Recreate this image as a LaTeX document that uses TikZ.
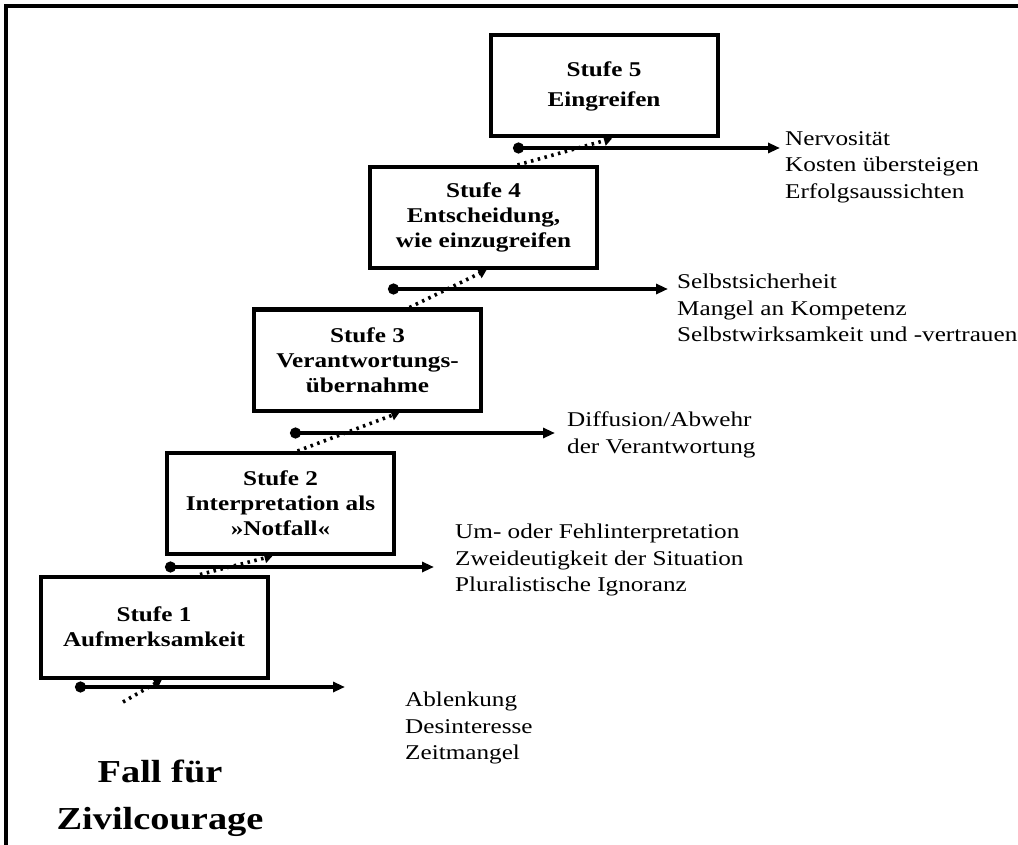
\documentclass[tikz,border=0pt]{standalone}
\usepackage{fontspec}
\setmainfont{Liberation Serif}[FakeStretch=1.2]
\usepackage{tikz}
\usetikzlibrary{arrows.meta}
\newcommand{\stage}[2]{\textbf{Stufe #1}\\\textbf{#2}}

\begin{document}
\begin{tikzpicture}[x=1pt, y=-1pt,
    stufebox/.style={draw, line width=4pt, minimum width=227pt, minimum height=101pt,
      align=center, inner sep=2pt, font=\fontsize{21}{25}\selectfont},
    lbl/.style={anchor=north west, align=left, inner sep=0pt,
      font=\fontsize{21}{26.5}\selectfont},
    hline/.style={line width=3.2pt, {Circle[length=11pt]}-{Triangle[length=12pt,width=10pt]}},
    stepdots/.style={line width=3.6pt, dash pattern=on 2.5pt off 4.5pt,
      -{Triangle[length=8pt,width=10pt]}}]
  \useasboundingbox (0,0) rectangle (1018,845);
  % --- frame (top and left) ---
  \draw[line width=3.5pt] (6,845) -- (6,6) -- (1018,6);
  % --- boxes ---
  \node[stufebox] (s1) at (154,627) {\stage{1}{Aufmerksamkeit}};
  \node[stufebox] (s2) at (280.5,503.5) {\stage{2}{Interpretation als}\\\textbf{»Notfall«}};
  \node[stufebox] (s3) at (367.5,360) {\stage{3}{Verantwortungs-}\\\textbf{übernahme}};
  \node[stufebox] (s4) at (483.5,217.5) {\stage{4}{Entscheidung,}\\\textbf{wie einzugreifen}};
  \node[stufebox, font=\fontsize{21}{30}\selectfont] (s5) at (604,86) {\stage{5}{Eingreifen}};
  % --- horizontal arrows ---
  \coordinate (h1a) at (75,687);  \coordinate (h1b) at (345,687);
  \coordinate (h2a) at (165,567); \coordinate (h2b) at (434,567);
  \coordinate (h3a) at (290,433); \coordinate (h3b) at (555,433);
  \coordinate (h4a) at (388,289); \coordinate (h4b) at (668,289);
  \coordinate (h5a) at (513,148); \coordinate (h5b) at (780,148);
  \foreach \i in {1,...,5} {\draw[hline] (h\i a) -- (h\i b);}
  % --- dotted steps ---
  \coordinate (d0) at (123,702);
  \draw[stepdots] (d0) -- ([xshift=8pt]s1.south);
  \draw[stepdots] ([xshift=46pt]s1.north) -- ([xshift=-8pt]s2.south);
  \draw[stepdots] ([xshift=17pt]s2.north) -- ([xshift=32pt]s3.south);
  \draw[stepdots] ([xshift=42pt]s3.north) -- ([xshift=3pt]s4.south);
  \draw[stepdots] ([xshift=34pt]s4.north) -- ([xshift=8pt]s5.south);
  % --- barriers ---
  \node[lbl] (l1) at (405,692) {Ablenkung\\Desinteresse\\Zeitmangel};
  \node[lbl] (l2) at (455,524) {Um- oder Fehlinterpretation\\Zweideutigkeit der Situation\\Pluralistische Ignoranz};
  \node[lbl] (l3) at (567,412) {Diffusion/Abwehr\\der Verantwortung};
  \node[lbl] (l4) at (677,274) {Selbstsicherheit\\Mangel an Kompetenz\\Selbstwirksamkeit und -vertrauen};
  \node[lbl] (l5) at (785,131) {Nervosität\\Kosten übersteigen\\Erfolgsaussichten};
  % --- title ---
  \node[align=center, font=\fontsize{32}{47}\selectfont\bfseries] (t) at (160,798) {Fall für\\Zivilcourage};
\end{tikzpicture}
\end{document}
